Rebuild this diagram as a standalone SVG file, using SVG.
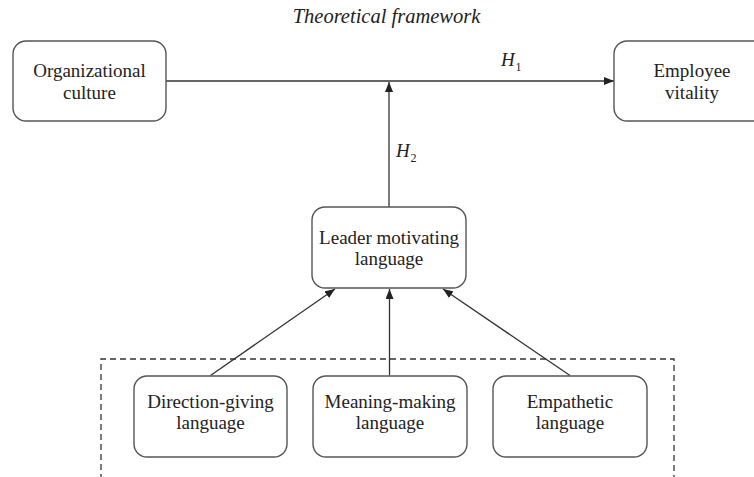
<svg xmlns="http://www.w3.org/2000/svg" width="754" height="477" viewBox="0 0 754 477">
<defs>
<style>
.box{fill:#fff;stroke:#555;stroke-width:1.4}
.t{font-family:"Liberation Serif","Times New Roman",serif;font-size:19px;fill:#222;text-anchor:middle}
.i{font-family:"Liberation Serif","Times New Roman",serif;font-style:italic;fill:#222}
.sub{font-family:"Liberation Serif","Times New Roman",serif;font-size:12px;fill:#222}
.c{fill:none;stroke:#333;stroke-width:1.3}
.dash{fill:none;stroke:#333;stroke-width:1.3;stroke-dasharray:6 4}
</style>
<marker id="ah" viewBox="0 0 10 8" refX="10" refY="4" markerWidth="10" markerHeight="8" markerUnits="userSpaceOnUse" orient="auto">
<path d="M0,0 L10,4 L0,8 Z" fill="#222"/>
</marker>
</defs>
<rect width="754" height="477" fill="#fff"/>
<text class="i" x="386.5" y="23" font-size="20.5" text-anchor="middle">Theoretical framework</text>
<path class="dash" d="M101,480 V359 H674 V480"/>
<g id="connectors">
<line class="c" x1="166" y1="81" x2="614" y2="81" marker-end="url(#ah)"/>
<line class="c" x1="389" y1="207" x2="389" y2="82" marker-end="url(#ah)"/>
<line class="c" x1="210.5" y1="375.5" x2="335" y2="289" marker-end="url(#ah)"/>
<line class="c" x1="389.5" y1="375.5" x2="389.5" y2="289" marker-end="url(#ah)"/>
<line class="c" x1="570" y1="375.5" x2="443" y2="289" marker-end="url(#ah)"/>
<text class="i" x="501" y="66" font-size="19">H</text><text class="sub" x="515.5" y="71">1</text>
<text class="i" x="396" y="157" font-size="19">H</text><text class="sub" x="410.5" y="162">2</text>
</g>
<g id="org">
<rect class="box" x="13" y="41" width="153" height="80" rx="13"/>
<text class="t" x="89.5" y="76.5">Organizational</text>
<text class="t" x="89.5" y="98.5">culture</text>
</g>
<g id="emp">
<rect class="box" x="614" y="41" width="154" height="80" rx="13"/>
<text class="t" x="692" y="76.5">Employee</text>
<text class="t" x="692" y="98.5">vitality</text>
</g>
<g id="leader">
<rect class="box" x="312" y="207" width="154" height="81" rx="13"/>
<text class="t" x="389" y="243.5">Leader motivating</text>
<text class="t" x="389" y="264.5">language</text>
</g>
<g id="direction">
<rect class="box" x="134" y="376" width="153" height="81" rx="13"/>
<text class="t" x="210.5" y="408">Direction-giving</text>
<text class="t" x="210.5" y="429">language</text>
</g>
<g id="meaning">
<rect class="box" x="313" y="376" width="154" height="81" rx="13"/>
<text class="t" x="390" y="408">Meaning-making</text>
<text class="t" x="390" y="429">language</text>
</g>
<g id="empathetic">
<rect class="box" x="493" y="376" width="154" height="81" rx="13"/>
<text class="t" x="570" y="408">Empathetic</text>
<text class="t" x="570" y="429">language</text>
</g>
</svg>
